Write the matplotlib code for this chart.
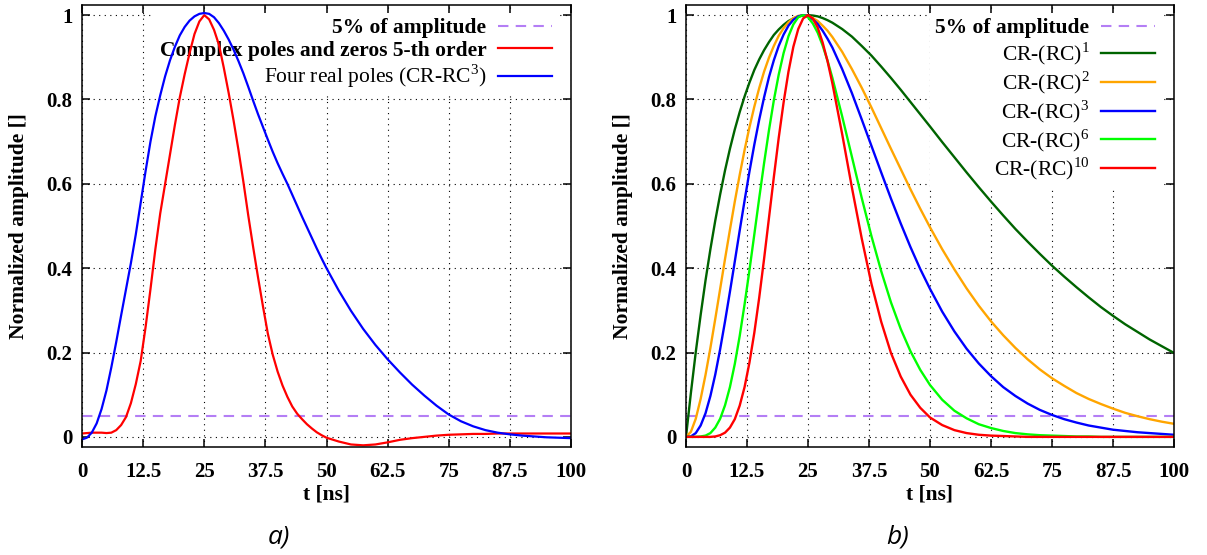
import matplotlib.pyplot as plt

plt.rcParams['font.family'] = ['Liberation Serif', 'DejaVu Serif']
plt.rcParams['mathtext.fontset'] = 'custom'
plt.rcParams['mathtext.rm'] = 'Liberation Serif'

# ---- panel a) : shaper comparison ----
t_a = list(range(0, 51)) + [52.5, 55, 57.5, 60, 62.5, 65, 67.5, 70, 72.5, 75,
                            77.5, 80, 82.5, 85, 87.5, 90, 92.5, 95, 97.5, 100]

complex_5th = [0.008, 0.009, 0.010, 0.010, 0.010, 0.009, 0.010, 0.016, 0.028, 0.047,
               0.080, 0.125, 0.180, 0.260, 0.350, 0.445, 0.530, 0.600, 0.670, 0.740,
               0.805, 0.860, 0.910, 0.955, 0.985, 1.000, 0.990, 0.965, 0.930, 0.875,
               0.815, 0.750, 0.680, 0.605, 0.525, 0.450, 0.378, 0.310, 0.245, 0.195,
               0.155, 0.122, 0.095, 0.072, 0.055, 0.042, 0.030, 0.020, 0.011, 0.004,
               -0.002,
               -0.011, -0.018, -0.020, -0.018, -0.013, -0.007, -0.003, 0.000, 0.003, 0.005,
               0.006, 0.007, 0.007, 0.008, 0.008, 0.008, 0.008, 0.008, 0.008, 0.008]

four_real = [-0.006, -0.002, 0.010, 0.032, 0.066, 0.110, 0.165, 0.225, 0.288, 0.350,
             0.412, 0.480, 0.555, 0.630, 0.700, 0.760, 0.810, 0.855, 0.893, 0.925,
             0.952, 0.972, 0.987, 0.997, 1.003, 1.005, 1.003, 0.995, 0.981, 0.963,
             0.942, 0.918, 0.891, 0.862, 0.830, 0.797, 0.765, 0.735, 0.705, 0.676,
             0.649, 0.624, 0.600, 0.574, 0.548, 0.522, 0.497, 0.472, 0.447, 0.423,
             0.400,
             0.347, 0.299, 0.256, 0.218, 0.184, 0.153, 0.124, 0.098, 0.074, 0.053,
             0.037, 0.025, 0.016, 0.010, 0.006, 0.003, 0.001, -0.001, -0.002, -0.003]

# ---- panel b) : CR-(RC)^n family ----
t_b = list(range(0, 31)) + [32, 34, 36, 38, 40, 42, 44, 46, 48, 50,
                            52.5, 55, 57.5, 60, 62.5, 65, 67.5, 70, 72.5, 75,
                            77.5, 80, 82.5, 85, 87.5, 90, 92.5, 95, 97.5, 100]

cr_rc1 = [0.000, 0.104, 0.201, 0.289, 0.371, 0.445, 0.513, 0.575, 0.632, 0.683,
          0.729, 0.770, 0.807, 0.840, 0.870, 0.895, 0.917, 0.936, 0.953, 0.966,
          0.977, 0.986, 0.992, 0.997, 0.999, 1.000, 0.999, 0.997, 0.993, 0.988,
          0.982,
          0.967, 0.949, 0.927, 0.904, 0.878, 0.851, 0.823, 0.794, 0.765, 0.736,
          0.699, 0.663, 0.627, 0.592, 0.558, 0.525, 0.493, 0.463, 0.434, 0.406,
          0.380, 0.355, 0.331, 0.308, 0.287, 0.267, 0.249, 0.231, 0.215, 0.199]

cr_rc2 = [0.000, 0.012, 0.043, 0.090, 0.147, 0.211, 0.280, 0.351, 0.422, 0.491,
          0.558, 0.621, 0.680, 0.734, 0.783, 0.827, 0.866, 0.899, 0.927, 0.951,
          0.969, 0.983, 0.993, 0.998, 1.000, 0.998, 0.993, 0.986, 0.975, 0.963,
          0.948,
          0.913, 0.872, 0.828, 0.781, 0.732, 0.683, 0.635, 0.587, 0.541, 0.497,
          0.445, 0.397, 0.352, 0.311, 0.274, 0.241, 0.211, 0.184, 0.160, 0.139,
          0.121, 0.104, 0.090, 0.078, 0.067, 0.057, 0.049, 0.042, 0.036, 0.031]

cr_rc3 = [0.000, 0.001, 0.009, 0.027, 0.056, 0.097, 0.148, 0.208, 0.274, 0.344,
          0.416, 0.489, 0.560, 0.629, 0.693, 0.752, 0.805, 0.853, 0.893, 0.927,
          0.954, 0.975, 0.989, 0.997, 1.000, 0.997, 0.990, 0.979, 0.963, 0.944,
          0.923,
          0.872, 0.815, 0.753, 0.690, 0.627, 0.565, 0.506, 0.450, 0.398, 0.351,
          0.297, 0.250, 0.209, 0.174, 0.144, 0.118, 0.097, 0.079, 0.064, 0.052,
          0.042, 0.034, 0.027, 0.022, 0.017, 0.014, 0.011, 0.009, 0.007, 0.005]

cr_rc6 = [0.000, 0.000, 0.000, 0.001, 0.003, 0.009, 0.022, 0.043, 0.075, 0.118,
          0.173, 0.239, 0.314, 0.395, 0.480, 0.566, 0.649, 0.727, 0.798, 0.859,
          0.910, 0.950, 0.978, 0.995, 1.000, 0.995, 0.980, 0.958, 0.928, 0.892,
          0.851,
          0.760, 0.664, 0.567, 0.476, 0.393, 0.319, 0.256, 0.203, 0.159, 0.123,
          0.088, 0.062, 0.044, 0.030, 0.021, 0.014, 0.009, 0.006, 0.004, 0.003,
          0.002, 0.001, 0.001, 0.000, 0.000, 0.000, 0.000, 0.000, 0.000, 0.000]

cr_rc10 = [0.000, 0.000, 0.000, 0.000, 0.000, 0.000, 0.001, 0.004, 0.010, 0.022,
           0.042, 0.074, 0.118, 0.176, 0.247, 0.330, 0.422, 0.519, 0.616, 0.709,
           0.793, 0.866, 0.925, 0.967, 0.992, 1.000, 0.992, 0.970, 0.935, 0.891,
           0.838,
           0.718, 0.591, 0.471, 0.363, 0.273, 0.199, 0.143, 0.100, 0.069, 0.046,
           0.028, 0.016, 0.009, 0.005, 0.003, 0.002, 0.001, 0.000, 0.000, 0.000,
           0.000, 0.000, 0.000, 0.000, 0.000, 0.000, 0.000, 0.000, 0.000, 0.000]

threshold = 0.05

x_ticks = [0, 12.5, 25, 37.5, 50, 62.5, 75, 87.5, 100]
x_tick_labels = ["0", "12.5", "25", "37.5", "50", "62.5", "75", "87.5", "100"]
y_ticks = [0, 0.2, 0.4, 0.6, 0.8, 1]
y_tick_labels = ["0", "0.2", "0.4", "0.6", "0.8", "1"]

W, H = 1207, 555
fig = plt.figure(figsize=(W / 100, H / 100), dpi=100)
ax1 = fig.add_axes([82 / W, 1 - 447 / H, 489 / W, 442 / H])
ax2 = fig.add_axes([686 / W, 1 - 447 / H, 488 / W, 442 / H])


def style_axes(ax):
    ax.set_xlim(0, 100)
    ax.set_ylim(-0.024, 1.024)
    ax.set_xticks(x_ticks)
    ax.set_xticklabels(x_tick_labels, fontweight='bold')
    ax.set_yticks(y_ticks)
    ax.set_yticklabels(y_tick_labels, fontweight='bold')
    ax.tick_params(direction='in', top=True, right=True, length=5.5, width=1.1,
                   labelsize=15)
    ax.tick_params(axis='x', pad=11)
    ax.tick_params(axis='y', pad=7)
    ax.grid(True, color='black', linestyle=(0, (1, 4)), linewidth=0.8)
    ax.set_axisbelow(True)
    for sp in ax.spines.values():
        sp.set_linewidth(1.1)
    ax.set_xlabel('t [ns]', fontweight='bold', fontsize=15.5)
    ax.set_ylabel('Normalized amplitude []', fontweight='bold', fontsize=15.5)
    ax.xaxis.set_label_coords(0.5, -0.084)
    ax.yaxis.set_label_coords(-0.108, 0.5)


def add_legend(ax, weights):
    leg = ax.legend(loc='upper right', bbox_to_anchor=(0.972, 0.982),
                    markerfirst=False, frameon=True, fancybox=False,
                    framealpha=1, edgecolor='none', facecolor='white',
                    fontsize=15.5, handlelength=2.5, handletextpad=0.55,
                    labelspacing=0.1, borderpad=0.25, borderaxespad=0)
    leg.set_zorder(1)
    for txt, w in zip(leg.get_texts(), weights):
        txt.set_fontweight(w)


dash_kw = dict(color='#b47ef5', linewidth=1.5, linestyle=(0, (5, 3.5)))

# a)
style_axes(ax1)
ax1.axhline(threshold, label='5% of amplitude', **dash_kw)
ax1.plot(t_a, complex_5th, color='#ff0000', linewidth=1.6,
         label='Complex poles and zeros 5-th order')
ax1.plot(t_a, four_real, color='#0000ff', linewidth=1.6,
         label=r'Four real poles (CR-RC$^\mathregular{3}$)')
add_legend(ax1, ['bold', 'bold', 'normal'])

# b)
style_axes(ax2)
ax2.axhline(threshold, label='5% of amplitude', **dash_kw)
ax2.plot(t_b, cr_rc1, color='#006400', linewidth=1.7, label=r'CR-(RC)$^\mathregular{1}$')
ax2.plot(t_b, cr_rc2, color='#ffa500', linewidth=1.7, label=r'CR-(RC)$^\mathregular{2}$')
ax2.plot(t_b, cr_rc3, color='#0000ff', linewidth=1.7, label=r'CR-(RC)$^\mathregular{3}$')
ax2.plot(t_b, cr_rc6, color='#00ff00', linewidth=1.7, label=r'CR-(RC)$^\mathregular{6}$')
ax2.plot(t_b, cr_rc10, color='#ff0000', linewidth=1.7, label=r'CR-(RC)$^\mathregular{10}$')
add_legend(ax2, ['bold', 'normal', 'normal', 'normal', 'normal', 'normal'])

fig.text(279 / W, 1 - 537 / H, 'a)', ha='center', va='center', fontsize=19,
         style='italic', family='Open Sans')
fig.text(898 / W, 1 - 537 / H, 'b)', ha='center', va='center', fontsize=19,
         style='italic', family='Open Sans')

fig.savefig('out.png', dpi=100)
